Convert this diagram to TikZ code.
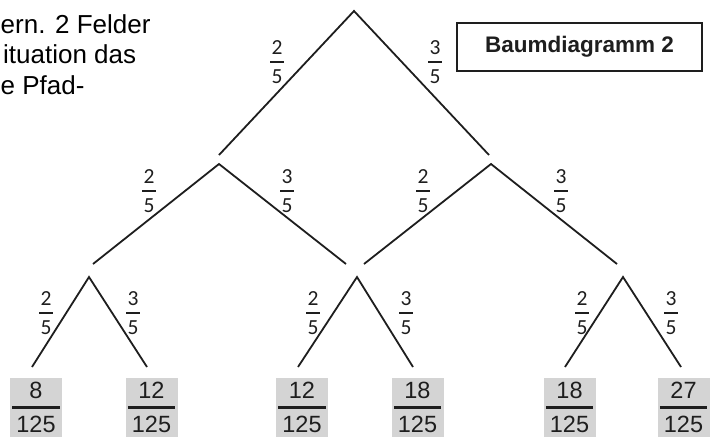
\documentclass[tikz,border=0pt]{standalone}
\usepackage{fontspec}
\setmainfont{Liberation Sans}
\newfontfamily\carlfont{Carlito}
\definecolor{boxgray}{RGB}{212,212,212}
\definecolor{ink}{RGB}{30,30,30}
\newcommand\brfrac[2]{\vbox{\offinterlineskip\halign{\hfil\kern1.5pt##\kern1.5pt\hfil\cr #1\cr\noalign{\kern6.5pt\hrule height2pt\kern6pt}#2\cr}}}
\newcommand\bxfrac[2]{\vbox{\offinterlineskip\halign{\hfil\kern4pt##\kern4pt\hfil\cr #1\cr\noalign{\kern7.5pt\hrule height2.4pt\kern7.5pt}#2\cr}}}
\tikzset{
  branch/.style={draw=ink, line width=1.8pt},
  prob/.style={inner sep=0pt, text=ink, font=\carlfont\fontsize{21.5}{21.5}\selectfont},
  leafbox/.style={fill=boxgray, inner sep=0pt, minimum width=52pt, minimum height=59pt, text=ink, font=\fontsize{23.5}{23.5}\selectfont},
  titlebox/.style={draw=ink, line width=1.5pt, minimum width=245pt, minimum height=48pt, inner sep=0pt, font=\bfseries\fontsize{22.5}{22.5}\selectfont, text=ink},
  snippet/.style={inner sep=0pt, anchor=base west, font=\fontsize{26}{26}\selectfont, text=black}
}
\begin{document}
\begin{tikzpicture}[x=1pt, y=-1pt]
\useasboundingbox (0,0) rectangle (710,437);
% text fragment at top left
\node[snippet] (t1) at (0.5,33) {ern. 2 Felder};
\node[snippet] (t2) at (3,63) {ituation das};
\node[snippet] (t3) at (0.5,94) {e Pfad-};
% title
\node[titlebox] (title) at (579.5,47) {Baumdiagramm 2};
% apexes and ends
\coordinate (r) at (354,11);
\coordinate (e1) at (219,155); \coordinate (e2) at (489,155);
\coordinate (a1) at (219,164); \coordinate (a2) at (491,164);
\coordinate (f1) at (93,264); \coordinate (f2) at (346,264);
\coordinate (f3) at (364,264); \coordinate (f4) at (617,264);
\coordinate (b1) at (89,277); \coordinate (b2) at (357,277); \coordinate (b3) at (623,277);
\coordinate (g1) at (32,367); \coordinate (g2) at (147,367);
\coordinate (g3) at (298,367); \coordinate (g4) at (413,367);
\coordinate (g5) at (565,367); \coordinate (g6) at (681,367);
\draw[branch] (e1) -- (r) -- (e2);
\draw[branch] (f1) -- (a1) -- (f2);
\draw[branch] (f3) -- (a2) -- (f4);
\draw[branch] (g1) -- (b1) -- (g2);
\draw[branch] (g3) -- (b2) -- (g4);
\draw[branch] (g5) -- (b3) -- (g6);
% probabilities
\node[prob] (p1) at (277,62) {\brfrac{2}{5}};
\node[prob] (p2) at (435,62) {\brfrac{3}{5}};
\node[prob] (p3) at (149,191) {\brfrac{2}{5}};
\node[prob] (p4) at (287,191) {\brfrac{3}{5}};
\node[prob] (p5) at (423,191) {\brfrac{2}{5}};
\node[prob] (p6) at (561,191) {\brfrac{3}{5}};
\node[prob] (p7) at (46,313) {\brfrac{2}{5}};
\node[prob] (p8) at (133,313) {\brfrac{3}{5}};
\node[prob] (p9) at (313,313) {\brfrac{2}{5}};
\node[prob] (p10) at (406,313) {\brfrac{3}{5}};
\node[prob] (p11) at (582,313) {\brfrac{2}{5}};
\node[prob] (p12) at (671,313) {\brfrac{3}{5}};
% leaves
\node[leafbox] (l1) at (36,407.5) {\bxfrac{8}{125}};
\node[leafbox] (l2) at (151.5,407.5) {\bxfrac{12}{125}};
\node[leafbox] (l3) at (302,407.5) {\bxfrac{12}{125}};
\node[leafbox] (l4) at (417.5,407.5) {\bxfrac{18}{125}};
\node[leafbox] (l5) at (569.5,407.5) {\bxfrac{18}{125}};
\node[leafbox] (l6) at (683.5,407.5) {\bxfrac{27}{125}};
\end{tikzpicture}
\end{document}
